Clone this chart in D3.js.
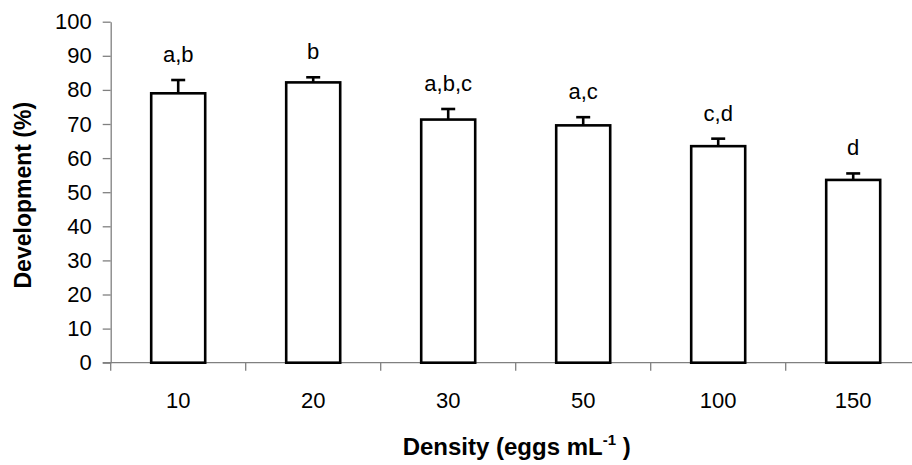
<!DOCTYPE html>
<html>
<head>
<meta charset="utf-8">
<script src="https://cdn.jsdelivr.net/npm/d3@7"></script>
<style>
  body { margin: 0; background: #fff; }
  svg { display: block; font-family: Arial, "Liberation Sans", sans-serif; }
</style>
</head>
<body>
<svg id="chart" width="912" height="465"></svg>
<script>
// Egg density treatments (eggs per mL)
const densities = ["10", "20", "30", "50", "100", "150"];
// Mean development (%) and standard error per density
const development = [79.0, 82.2, 71.3, 69.6, 63.5, 53.6];
const stdErrors = [3.9, 1.5, 3.1, 2.4, 2.2, 1.9];
// Significance groups
const groups = ["a,b", "b", "a,b,c", "a,c", "c,d", "d"];
// Y axis tick values
const yTicks = [0, 10, 20, 30, 40, 50, 60, 70, 80, 90, 100];

const svg = d3.select("#chart");
const axisColor = "#808080";
const plot = { left: 110.7, right: 920.7, top: 21.7, bottom: 362.7 };

const x = d3.scaleBand()
  .domain(densities)
  .range([plot.left, plot.right])
  .paddingInner(0.6)
  .paddingOuter(0.3);

const y = d3.scaleLinear()
  .domain([0, 100])
  .range([plot.bottom, plot.top]);

// Y axis
const yAxis = svg.append("g")
  .attr("transform", `translate(${plot.left},0)`)
  .call(d3.axisLeft(y).tickValues(yTicks).tickSize(8).tickSizeOuter(0).tickPadding(11));
yAxis.select(".domain").attr("stroke", axisColor).attr("stroke-width", 1.3);
yAxis.selectAll(".tick line").attr("stroke", axisColor).attr("stroke-width", 1.3);
yAxis.selectAll(".tick text")
  .attr("fill", "#000")
  .style("font-size", "22px")
  .style("font-family", "Arial, 'Liberation Sans', sans-serif");

// X axis: baseline, ticks on category boundaries, labels at category centres
const xAxis = svg.append("g");
xAxis.append("line")
  .attr("x1", plot.left - 8).attr("x2", plot.right)
  .attr("y1", y(0)).attr("y2", y(0))
  .attr("stroke", axisColor).attr("stroke-width", 1.3);
const bounds = d3.range(densities.length + 1).map(i => plot.left + i * x.step());
xAxis.selectAll("line.bound")
  .data(bounds)
  .join("line")
  .attr("class", "bound")
  .attr("x1", d => d).attr("x2", d => d)
  .attr("y1", y(0)).attr("y2", y(0) + 8)
  .attr("stroke", axisColor).attr("stroke-width", 1.3);
xAxis.selectAll("text.xlab")
  .data(densities)
  .join("text")
  .attr("class", "xlab")
  .attr("x", d => x(d) + x.bandwidth() / 2)
  .attr("y", 408)
  .attr("text-anchor", "middle")
  .style("font-size", "22px")
  .text(d => d);

const rows = densities.map((d, i) => ({ d, v: development[i], e: stdErrors[i], g: groups[i] }));

// Error bars (upper half only)
const err = svg.append("g").attr("stroke", "#000").attr("stroke-width", 2.6);
err.selectAll("line.stem")
  .data(rows)
  .join("line")
  .attr("x1", r => x(r.d) + x.bandwidth() / 2)
  .attr("x2", r => x(r.d) + x.bandwidth() / 2)
  .attr("y1", r => y(r.v))
  .attr("y2", r => y(r.v + r.e));
err.selectAll("line.cap")
  .data(rows)
  .join("line")
  .attr("x1", r => x(r.d) + x.bandwidth() / 2 - 7)
  .attr("x2", r => x(r.d) + x.bandwidth() / 2 + 7)
  .attr("y1", r => y(r.v + r.e))
  .attr("y2", r => y(r.v + r.e));

// Bars
svg.append("g")
  .selectAll("rect")
  .data(rows)
  .join("rect")
  .attr("x", r => x(r.d))
  .attr("y", r => y(r.v))
  .attr("width", x.bandwidth())
  .attr("height", r => y(0) - y(r.v))
  .attr("fill", "#fff")
  .attr("stroke", "#000")
  .attr("stroke-width", 2.6);

// Significance letters
svg.append("g")
  .selectAll("text")
  .data(rows)
  .join("text")
  .attr("x", r => x(r.d) + x.bandwidth() / 2)
  .attr("y", r => y(r.v + r.e) - 18)
  .attr("text-anchor", "middle")
  .style("font-size", "22px")
  .text(r => r.g);

// Axis titles
svg.append("text")
  .attr("transform", `translate(31,${(plot.top + plot.bottom) / 2 + 3}) rotate(-90)`)
  .attr("text-anchor", "middle")
  .style("font-size", "23px")
  .style("font-weight", "bold")
  .text("Development (%)");

const xt = svg.append("text")
  .attr("x", (plot.left + plot.right) / 2 + 1)
  .attr("y", 455)
  .attr("text-anchor", "middle")
  .style("font-size", "24px")
  .style("font-weight", "bold");
xt.append("tspan").text("Density (eggs mL");
xt.append("tspan").attr("dy", -10).style("font-size", "15px").text("-1");
xt.append("tspan").attr("dy", 10).text("\u00a0)");
</script>
</body>
</html>
